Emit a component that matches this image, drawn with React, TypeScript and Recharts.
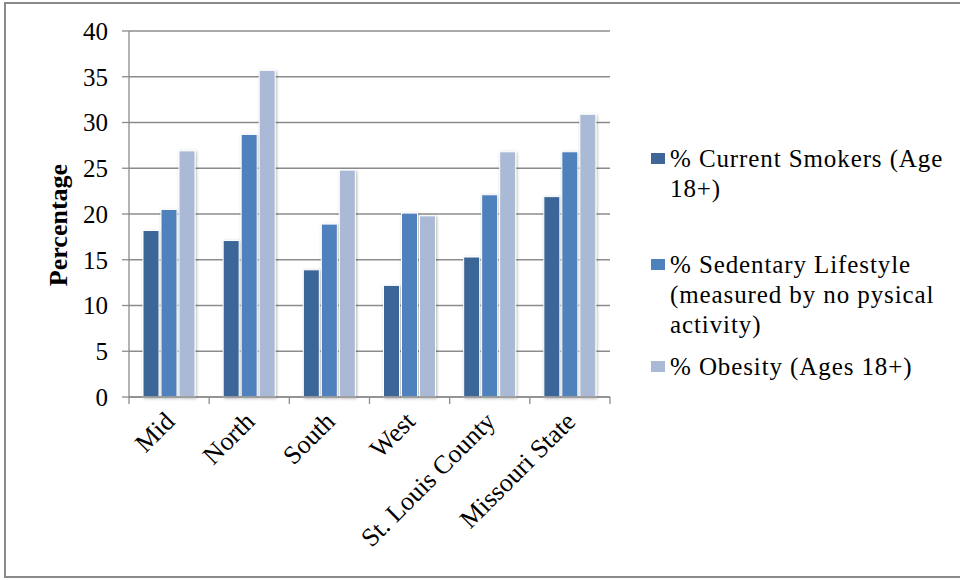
import { BarChart, Bar, XAxis, YAxis, CartesianGrid } from "recharts";

const regions = ["Mid", "North", "South", "West", "St. Louis County", "Missouri State"];
const smokers = [18.2, 17.1, 13.9, 12.2, 15.3, 21.9];
const sedentary = [20.5, 28.7, 18.9, 20.1, 22.1, 26.8];
const obesity = [26.9, 35.7, 24.8, 19.8, 26.8, 30.9];
const yTicks = [0, 5, 10, 15, 20, 25, 30, 35, 40];

const series = [
  { key: "smokers", name: "% Current Smokers (Age 18+)", lines: ["% Current Smokers (Age", "18+)"], color: "#3E6698" },
  { key: "sedentary", name: "% Sedentary Lifestyle (measured by no pysical activity)", lines: ["% Sedentary Lifestyle", "(measured by no pysical", "activity)"], color: "#4F81BD" },
  { key: "obesity", name: "% Obesity (Ages 18+)", lines: ["% Obesity (Ages 18+)"], color: "#AAB9D6" },
];

const data = regions.map((region, i) => ({
  region,
  smokers: smokers[i],
  sedentary: sedentary[i],
  obesity: obesity[i],
}));

const FONT = "Liberation Serif, serif";
const GRID = "#8c8c8c";
const PLOT_LEFT = 129;
const PLOT_RIGHT = 610;
const BAND = (PLOT_RIGHT - PLOT_LEFT) / regions.length;

// legend layout: first-line baseline of each entry, line height
const LEGEND_X = 651;
const legendTops = [167, 273, 375];
const LEGEND_LINE = 30;

function ShadowBar(props: any) {
  const { x, y, width, height, fill } = props;
  if (!height || height <= 0) return null;
  return (
    <rect
      x={x}
      y={y}
      width={width}
      height={height}
      fill={fill}
      stroke="#ffffff"
      strokeWidth={1}
      filter="url(#barShadow)"
    />
  );
}

function RegionTick(props: any) {
  const { x, y, payload, index } = props;
  const tx = x + 7;
  const ty = y + 26;
  return (
    <g>
      <line x1={x - BAND / 2} y1={y} x2={x - BAND / 2} y2={y + 7} stroke={GRID} strokeWidth={1.3} />
      {index === regions.length - 1 && (
        <line x1={x + BAND / 2} y1={y} x2={x + BAND / 2} y2={y + 7} stroke={GRID} strokeWidth={1.3} />
      )}
      <text
        x={tx}
        y={ty}
        transform={`rotate(-45, ${tx}, ${ty})`}
        textAnchor="end"
        fontSize={26}
        fontFamily={FONT}
        fill="#000"
      >
        {payload.value}
      </text>
    </g>
  );
}

function LegendSvg() {
  return (
    <svg
      width={960}
      height={580}
      style={{ position: "absolute", left: 0, top: 0, pointerEvents: "none" }}
    >
      {series.map((s, i) => (
        <g key={s.key}>
          <rect x={LEGEND_X} y={legendTops[i] - 14} width={14} height={11} fill={s.color} />
          {s.lines.map((l, j) => (
            <text
              key={l}
              x={LEGEND_X + 19}
              y={legendTops[i] + j * LEGEND_LINE}
              fontSize={25}
              fontFamily={FONT}
              letterSpacing={0.9}
              fill="#000"
            >
              {l}
            </text>
          ))}
        </g>
      ))}
    </svg>
  );
}

export default function App() {
  return (
    <div style={{ position: "absolute", left: 0, top: 0, width: 960, height: 580, background: "#fff" }}>
      <div
        style={{
          position: "absolute",
          left: 4,
          top: 2,
          width: 956,
          height: 576,
          borderTop: "2px solid #8a8a8a",
          borderLeft: "2px solid #8a8a8a",
          borderBottom: "2px solid #8a8a8a",
          boxSizing: "border-box",
        }}
      />
      <div style={{ position: "absolute", left: 0, top: 0 }}>
        <BarChart
          width={960}
          height={580}
          data={data}
          margin={{ top: 31, right: 960 - PLOT_RIGHT, bottom: 33, left: 0 }}
          barSize={16}
          barGap={2}
        >
          <defs>
            <filter id="barShadow" x="-30%" y="-10%" width="160%" height="120%">
              <feDropShadow dx={1} dy={1} stdDeviation={1.5} floodColor="#000" floodOpacity={0.3} />
            </filter>
          </defs>
          <CartesianGrid vertical={false} stroke={GRID} strokeWidth={1.3} />
          <XAxis
            dataKey="region"
            height={150}
            interval={0}
            tickLine={false}
            tickSize={0}
            tickMargin={0}
            axisLine={{ stroke: GRID, strokeWidth: 1.3 }}
            tick={<RegionTick />}
          />
          <YAxis
            width={PLOT_LEFT}
            domain={[0, 40]}
            ticks={yTicks}
            interval={0}
            tickSize={7}
            tickMargin={14}
            axisLine={{ stroke: GRID, strokeWidth: 1.3 }}
            tickLine={{ stroke: GRID, strokeWidth: 1.3 }}
            tick={{ fontSize: 25, fontFamily: FONT, fill: "#000" }}
            label={() => (
              <text
                x={67}
                y={225}
                transform="rotate(-90, 67, 225)"
                textAnchor="middle"
                fontSize={26}
                fontWeight="bold"
                fontFamily={FONT}
                fill="#000"
              >
                Percentage
              </text>
            )}
          />
          {series.map((s) => (
            <Bar
              key={s.key}
              dataKey={s.key}
              name={s.name}
              fill={s.color}
              shape={<ShadowBar />}
              isAnimationActive={false}
            />
          ))}
        </BarChart>
      </div>
      <LegendSvg />
    </div>
  );
}
